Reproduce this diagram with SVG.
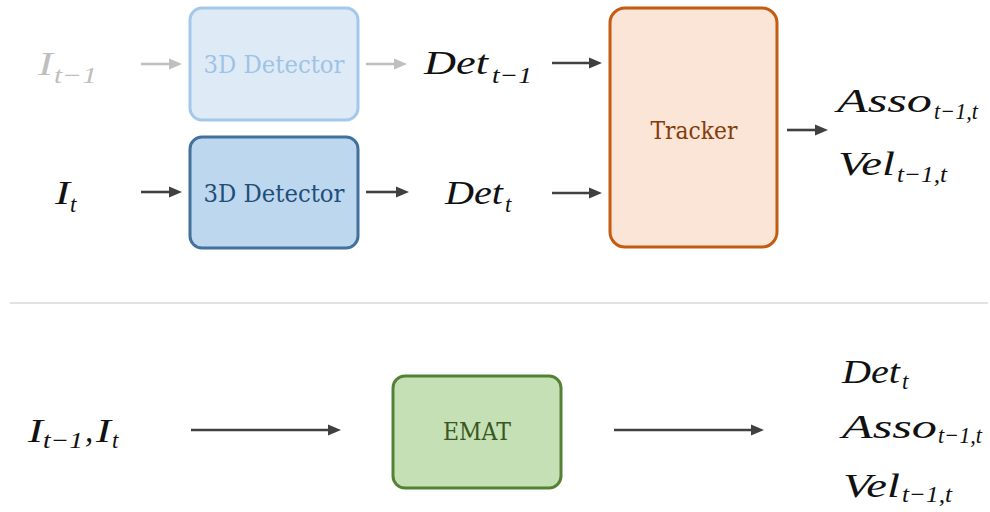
<svg xmlns="http://www.w3.org/2000/svg" width="990" height="512" viewBox="0 0 990 512">
  <style>
    .box-label { font-family: "DejaVu Serif", "Liberation Serif", serif; font-size: 25px; text-anchor: middle; }
    .m { font-family: "Liberation Serif", "DejaVu Serif", serif; font-style: italic; font-size: 33px; fill: #111; }
    .s { font-family: "Liberation Serif", "DejaVu Serif", serif; font-style: italic; font-size: 23px; fill: #111; }
    .faded .m, .faded .s { fill: #bfbfbf; }
    .conn { stroke-width: 2.6; fill: none; }
    .dark { stroke: #404040; }
    .light { stroke: #bfbfbf; }
  </style>
  <defs>
    <marker id="head-dark" markerUnits="userSpaceOnUse" markerWidth="14" markerHeight="12" viewBox="0 0 14 12" refX="2" refY="6" orient="auto">
      <path d="M0,0.5 L13,6 L0,11.5 z" fill="#404040"/>
    </marker>
    <marker id="head-light" markerUnits="userSpaceOnUse" markerWidth="14" markerHeight="12" viewBox="0 0 14 12" refX="2" refY="6" orient="auto">
      <path d="M0,0.5 L13,6 L0,11.5 z" fill="#bfbfbf"/>
    </marker>
  </defs>

  <rect width="990" height="512" fill="#ffffff"/>

  <!-- top pipeline: separate detector and tracker -->
  <g id="input-prev" class="faded">
    <text class="m" x="38" y="75" textLength="15" lengthAdjust="spacingAndGlyphs">I</text>
    <text class="s" x="54" y="83" textLength="43" lengthAdjust="spacingAndGlyphs">t−1</text>
  </g>

  <g id="detector-prev">
    <rect x="190" y="8" width="168" height="112" rx="12" fill="#deebf7" stroke="#a4c8ea" stroke-width="3"/>
    <text class="box-label" x="274" y="73" fill="#9dc3e6" textLength="141" lengthAdjust="spacingAndGlyphs">3D Detector</text>
  </g>

  <g id="det-prev">
    <text class="m" x="424" y="74" textLength="64" lengthAdjust="spacingAndGlyphs">Det</text>
    <text class="s" x="492" y="83" textLength="40" lengthAdjust="spacingAndGlyphs">t−1</text>
  </g>

  <g id="input-cur">
    <text class="m" x="55" y="204" textLength="15" lengthAdjust="spacingAndGlyphs">I</text>
    <text class="s" x="70" y="212">t</text>
  </g>

  <g id="detector-cur">
    <rect x="190" y="137" width="168" height="111" rx="12" fill="#bdd7ee" stroke="#41719c" stroke-width="3"/>
    <text class="box-label" x="274" y="202" fill="#1f4e79" textLength="141" lengthAdjust="spacingAndGlyphs">3D Detector</text>
  </g>

  <g id="det-cur">
    <text class="m" x="445" y="204" textLength="58" lengthAdjust="spacingAndGlyphs">Det</text>
    <text class="s" x="505" y="212">t</text>
  </g>

  <g id="tracker">
    <rect x="610" y="8" width="167" height="239" rx="15" fill="#fbe5d6" stroke="#c55a11" stroke-width="3"/>
    <text class="box-label" x="694" y="139" fill="#843c0c" textLength="87" lengthAdjust="spacingAndGlyphs">Tracker</text>
  </g>

  <g id="tracker-out">
    <text class="m" x="837" y="112" textLength="95" lengthAdjust="spacingAndGlyphs">Asso</text>
    <text class="s" x="934" y="119" textLength="44" lengthAdjust="spacingAndGlyphs">t−1,t</text>
    <text class="m" x="838" y="175" textLength="57" lengthAdjust="spacingAndGlyphs">Vel</text>
    <text class="s" x="897" y="182" textLength="50" lengthAdjust="spacingAndGlyphs">t−1,t</text>
  </g>

  <!-- divider between the two pipelines -->
  <line x1="10" y1="303" x2="988" y2="303" stroke="#d9d9d9" stroke-width="1.5"/>

  <!-- bottom pipeline: joint model -->
  <g id="input-pair">
    <text class="m" x="28" y="442" textLength="15" lengthAdjust="spacingAndGlyphs">I</text>
    <text class="s" x="43" y="448" textLength="40" lengthAdjust="spacingAndGlyphs">t−1</text>
    <text class="m" x="85" y="442">,</text>
    <text class="m" x="96" y="442" textLength="15" lengthAdjust="spacingAndGlyphs">I</text>
    <text class="s" x="112" y="448">t</text>
  </g>

  <g id="emat">
    <rect x="393" y="376" width="168" height="112" rx="12" fill="#c5e0b4" stroke="#548235" stroke-width="3"/>
    <text class="box-label" x="477" y="440" fill="#385723" font-size="21" textLength="68" lengthAdjust="spacingAndGlyphs">EMAT</text>
  </g>

  <g id="emat-out">
    <text class="m" x="842" y="383" textLength="58" lengthAdjust="spacingAndGlyphs">Det</text>
    <text class="s" x="902" y="389">t</text>
    <text class="m" x="842" y="438" textLength="95" lengthAdjust="spacingAndGlyphs">Asso</text>
    <text class="s" x="938" y="443" textLength="44" lengthAdjust="spacingAndGlyphs">t−1,t</text>
    <text class="m" x="843" y="497" textLength="57" lengthAdjust="spacingAndGlyphs">Vel</text>
    <text class="s" x="902" y="502" textLength="50" lengthAdjust="spacingAndGlyphs">t−1,t</text>
  </g>

  <g id="connectors">
    <line class="conn light" x1="141" y1="64" x2="171" y2="64" marker-end="url(#head-light)"/>
    <line class="conn light" x1="366" y1="64" x2="396" y2="64" marker-end="url(#head-light)"/>
    <line class="conn dark" x1="552" y1="63" x2="591" y2="63" marker-end="url(#head-dark)"/>
    <line class="conn dark" x1="141" y1="192" x2="171" y2="192" marker-end="url(#head-dark)"/>
    <line class="conn dark" x1="366" y1="192" x2="398" y2="192" marker-end="url(#head-dark)"/>
    <line class="conn dark" x1="552" y1="193" x2="591" y2="193" marker-end="url(#head-dark)"/>
    <line class="conn dark" x1="787" y1="130" x2="817" y2="130" marker-end="url(#head-dark)"/>
    <line class="conn dark" x1="191" y1="430" x2="330" y2="430" marker-end="url(#head-dark)"/>
    <line class="conn dark" x1="614" y1="430" x2="753" y2="430" marker-end="url(#head-dark)"/>
  </g>
</svg>
